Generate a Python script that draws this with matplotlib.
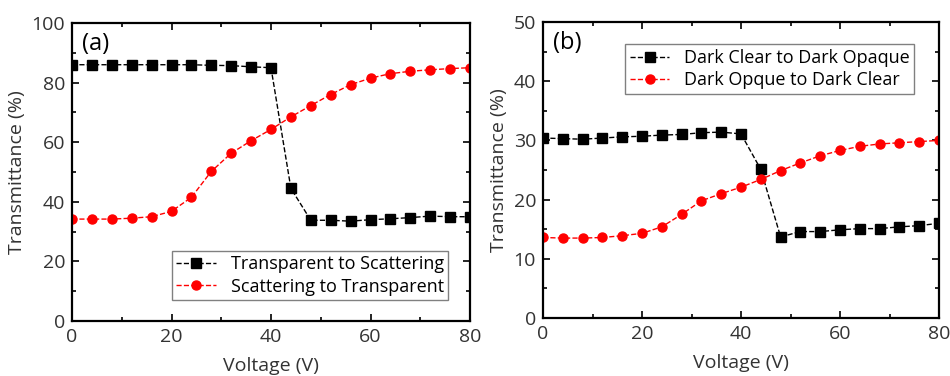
import matplotlib
matplotlib.use('Agg')
import matplotlib.pyplot as plt
from matplotlib.ticker import MultipleLocator

plt.rcParams['font.family'] = ['Open Sans', 'DejaVu Sans']

voltage = [0, 4, 8, 12, 16, 20, 24, 28, 32, 36, 40, 44, 48, 52, 56, 60, 64, 68, 72, 76, 80]

# (a)
a_trans_to_scat = [86.0, 86.0, 86.0, 86.0, 86.0, 86.0, 86.0, 85.8, 85.7, 85.3, 85.0,
                   44.5, 33.8, 33.8, 33.5, 34.0, 34.3, 34.7, 35.2, 35.0, 35.0]
a_scat_to_trans = [34.2, 34.2, 34.2, 34.5, 35.0, 36.8, 41.5, 50.2, 56.3, 60.5, 64.3,
                   68.5, 72.3, 76.0, 79.3, 81.5, 83.0, 83.8, 84.3, 84.7, 85.0]

# (b)
b_clear_to_opaque = [30.4, 30.3, 30.2, 30.4, 30.6, 30.7, 30.9, 31.0, 31.3, 31.4, 31.1,
                     25.1, 13.7, 14.6, 14.6, 14.9, 15.1, 15.1, 15.4, 15.6, 16.0]
b_opaque_to_clear = [13.6, 13.5, 13.5, 13.6, 13.9, 14.3, 15.4, 17.5, 19.8, 21.0, 22.1,
                     23.4, 24.9, 26.2, 27.4, 28.3, 29.0, 29.4, 29.6, 29.8, 30.0]

fig = plt.figure(figsize=(9.5, 3.76), dpi=100)
ax1 = fig.add_axes([72/950, 1 - 321/376, 398/950, 298/376])
ax2 = fig.add_axes([543/950, 1 - 318/376, 396/950, 296/376])


def style(ax, ymax, ymaj):
    ax.set_xlim(0, 80)
    ax.set_ylim(0, ymax)
    ax.xaxis.set_major_locator(MultipleLocator(20))
    ax.xaxis.set_minor_locator(MultipleLocator(10))
    ax.yaxis.set_major_locator(MultipleLocator(ymaj))
    ax.yaxis.set_minor_locator(MultipleLocator(ymaj / 2))
    ax.tick_params(which='both', direction='in', top=True, right=True, width=1.2,
                   labelsize=14, colors='black', labelcolor='#333333', pad=5)
    ax.tick_params(which='major', length=5)
    ax.tick_params(which='minor', length=3)
    for s in ax.spines.values():
        s.set_linewidth(1.6)
    ax.set_xlabel('Voltage (V)', fontsize=14, color='#333333', labelpad=8)
    ax.set_ylabel('Transmittance (%)', fontsize=14, color='#333333', labelpad=4)


ax1.plot(voltage, a_trans_to_scat, 'k--s', lw=1, ms=6.5, label='Transparent to Scattering')
ax1.plot(voltage, a_scat_to_trans, '--o', color='red', lw=1, ms=6.5, label='Scattering to Transparent')
style(ax1, 100, 20)
ax1.text(0.025, 0.93, '(a)', transform=ax1.transAxes, fontsize=17, va='center')
leg1 = ax1.legend(loc='lower right', bbox_to_anchor=(0.968, 0.04), fontsize=13,
                  fancybox=False, edgecolor='gray', framealpha=1,
                  handlelength=2.2, borderpad=0.25, labelspacing=0.25)
leg1.get_frame().set_linewidth(1)

ax2.plot(voltage, b_clear_to_opaque, 'k--s', lw=1, ms=6.5, label='Dark Clear to Dark Opaque')
ax2.plot(voltage, b_opaque_to_clear, '--o', color='red', lw=1, ms=6.5, label='Dark Opque to Dark Clear')
style(ax2, 50, 10)
ax2.text(0.025, 0.93, '(b)', transform=ax2.transAxes, fontsize=17, va='center')
leg2 = ax2.legend(loc='upper right', bbox_to_anchor=(0.96, 0.955), fontsize=13,
                  fancybox=False, edgecolor='gray', framealpha=1,
                  handlelength=2.2, borderpad=0.25, labelspacing=0.25)
leg2.get_frame().set_linewidth(1)

plt.savefig('out.png', dpi=100)
